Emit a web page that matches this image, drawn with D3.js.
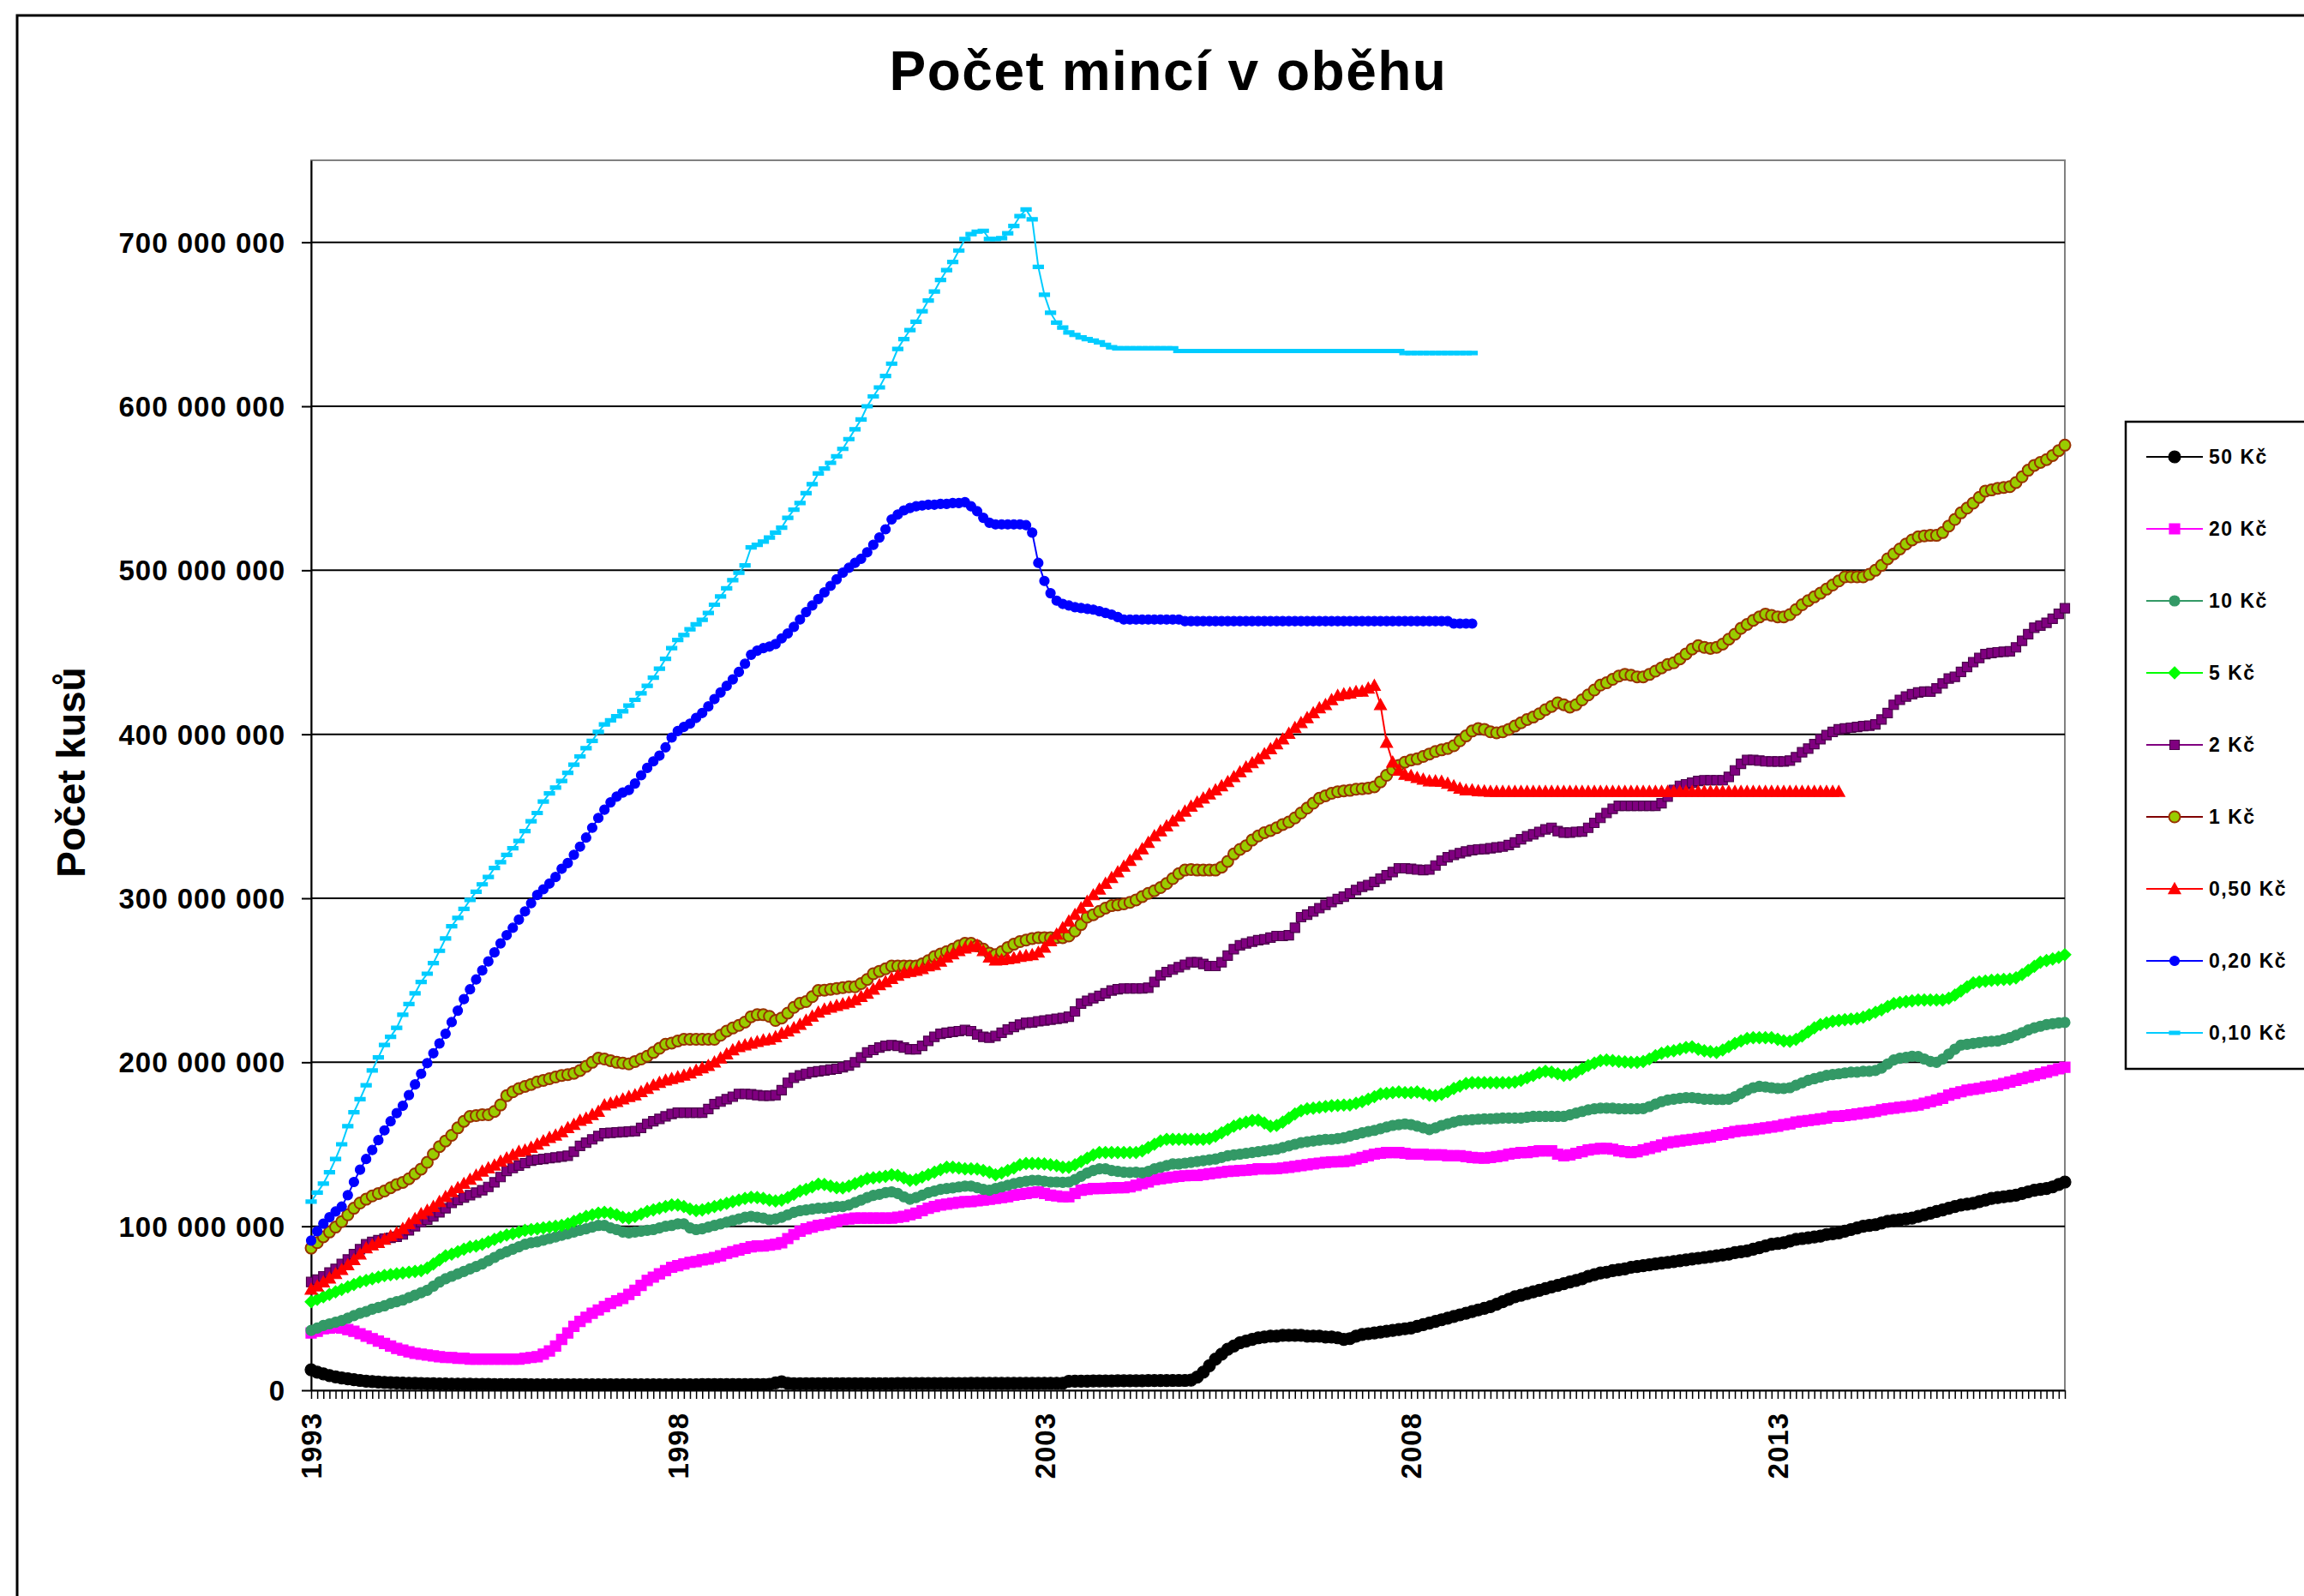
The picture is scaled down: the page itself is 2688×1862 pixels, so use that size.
<!DOCTYPE html>
<html>
<head>
<meta charset="utf-8">
<title>Počet mincí v oběhu</title>
<script src="https://d3js.org/d3.v7.min.js"></script>
<style>
  body { margin: 0; background: #fff; }
  svg text { font-family: "Liberation Sans", Arial, sans-serif; font-weight: bold; fill: #000; }
</style>
</head>
<body>
<script>
// monthly counts in millions of pieces, Jan 1993 onwards (one row per year)
const kc50 = [
  12.5,11,10,9,8.2,7.5,7,6.5,6,5.6,5.3,5,
  4.8,4.6,4.5,4.4,4.3,4.2,4.1,4,4,3.9,3.9,3.8,
  3.8,3.7,3.7,3.6,3.6,3.6,3.5,3.5,3.5,3.5,3.5,3.5,
  3.4,3.4,3.4,3.4,3.4,3.4,3.4,3.4,3.4,3.4,3.4,3.4,
  3.4,3.4,3.4,3.4,3.4,3.4,3.4,3.4,3.4,3.4,3.4,3.4,
  3.4,3.4,3.4,3.4,3.5,3.5,3.5,3.5,3.5,3.5,3.5,3.5,
  3.5,3.5,3.5,3.6,4.5,5.2,4.2,4,4,4,4,4,
  4,4,4,4,4,4,4,4,4,4,4,4,
  4.1,4.1,4.1,4.1,4.1,4.1,4.1,4.1,4.1,4.1,4.1,4.1,
  4.2,4.2,4.2,4.2,4.2,4.2,4.2,4.2,4.2,4.2,4.2,4.2,
  4.3,4.3,4.3,4.3,5.5,5.6,5.6,5.6,5.7,5.7,5.7,5.7,
  5.8,5.8,5.8,5.8,5.8,5.9,5.9,5.9,5.9,6,6,6,
  6.2,8,11,15,19,22,25,27,29,30,31,32,
  32.5,33,33,33.5,33.5,33.5,33.5,33,33,33,32.5,32.5,
  32,31,31.5,33,34,34.5,35,35.5,36,36.5,37,37.5,
  38,39,40,41,42,43,44,45,46,47,48,49,
  50,51,52.5,54,55.5,57,58,59,60,61,62,63,
  64,65,66,67,68,69.5,70.5,71.5,72,73,73.5,74,
  75,75.5,76,76.5,77,77.5,78,78.5,79,79.5,80,80.5,
  81,81.5,82,82.5,83,84,84.5,85,86,87,88,89,
  89.5,90,91,92,92.5,93,93.5,94,95,95.5,96,97,
  98,99,100,100.5,101,102,103,103.5,104,104.5,105,106,
  107,108,109,110,111,112,113,113.5,114,115,116,117,
  117.5,118,118.5,119,120,121,122,122.5,123,124,125.5,127
];
const kc20 = [
  35,36,37.5,38,38.5,38,37,36,34.5,33,31.5,30,
  28.5,27,25.5,24.5,23.5,22.5,22,21.5,21,20.5,20,20,
  19.5,19.5,19,19,19,19,19,19,19,19,19,19.5,
  20,20.5,22,24,27,31,35,39,42,44.5,47,49,
  51,53,54.5,56,58.5,61,64,67,69,71,73,75,
  76,77,78,78.5,79.5,80,81,82,83.5,84.5,85.5,86.5,
  87.5,88,88,88.5,89,90,92.5,95,97,98.5,99.5,100.5,
  101,102,103,104,104.5,105,105,105,105,105,105,105,
  105.5,106,107,108,109.5,111,112,113,113.5,114,114.5,115,
  115,115.5,116,116.5,117,117.5,118,119,119.5,120,120.5,121,
  120,119,118.5,118,118,120,122,122.5,123,123,123.2,123.4,
  123.5,123.5,124,125,126,127,128.5,129,129.5,130,130.5,130.8,
  131,131,131.5,132,132.5,133,133.5,133.7,134,134.2,134.5,135,
  135,135,135.2,135.5,136,136.5,137,137.5,138,138.5,139,139.2,
  139.3,139.5,140,141,142,143,144,144.5,145,145,145,144.5,
  144,144,144,143.5,143.5,143.5,143,143,143,142.5,142,141.7,
  141.5,142,142.5,143,144,144.5,145,145,145.5,146,146,146,
  144,143,143.5,144.5,145.5,146.5,147,147.5,147.5,147,146,145.5,
  145,145.5,146.5,147.5,148.5,149.5,151,151.5,152,152.5,153,153.5,
  154,154.5,155.5,156,157,157.8,158.3,158.6,159,159.5,160,160.5,
  161,162,162.5,163.5,164,164.5,165,165.5,166,167,167,167.5,
  168,168.5,169,169.5,170,171,171.6,172,172.5,173,173.5,174,
  175,176,177,178,180,181,182,183,183.5,184,185,185.5,
  186,187,188,189,190,191,192,193,194,195,196,197
];
const kc10 = [
  36.5,38,39.5,40.5,41.5,42.5,44,45.5,47,48,49.5,50.5,
  51.5,53,54,55,56.5,58,59.5,61,63.5,66,68,69.5,
  71,72.5,74,75.5,77,79,81,83,84.5,86,87.5,89,
  90,90.5,91.5,92.5,93.5,94.5,95.5,96.5,97.5,98.5,99.5,100.5,
  100.5,99,98,96.5,96,96.5,97,97.5,98,99,100,100.5,
  101.5,101.5,99,98,98.5,99.5,100.5,101.5,102.5,103.5,104.5,105.5,
  106,105.5,105,104,104.5,105.5,107,108.5,109.5,110,110.5,111,
  111,111.5,112,112,113,114.5,116,117.5,118.8,119.5,120.5,121,
  120,118,116.5,117.5,119,120.5,121.5,122.5,123,123.4,124,124.5,
  124.5,123.5,122.5,122,123,124,125,126,126.8,127.5,128,128,
  127.5,127,127,126.8,127,128.5,130.5,132.5,134,135,135,134,
  133.5,133,132.8,133,132.6,133.5,135,136,137,138,138,138.5,
  139,139.5,140,140.5,141,142,143,143.5,144,144.5,145,145.5,
  146,146.5,147,148,149,150,151,151.5,152,152.5,153,153,
  153.5,154,155,156,157,157.8,158.5,159.5,160.5,161.5,162,162.4,
  162,161,160,159,160,161.5,162.5,163.5,164.5,164.7,165,165.3,
  165.5,165.5,165.7,166,166,166,166,166.5,167,167,167,167,
  167,167,168,169,170,171,171.6,172,172,172,171.6,171.6,
  171.6,171.6,171.8,173,174.5,176,177,177.5,178,178.4,178.4,178,
  177.5,177.5,177.3,177.3,177.5,179,181,183,184.5,185.3,185,184.5,
  184,184,184.5,186,187.5,189,190,191,192,192.5,193,193.5,
  194,194,194.5,194.5,195,196.5,199,201.4,202.5,203,203.7,203.5,
  202,200.5,200,202,205,208,210.5,211,211.5,212,212.5,212.8,
  213,214,215,216.5,218,219.7,221,222,223,223.5,224,224.3
];
const kc5 = [
  54,55.5,57,58.5,60,61.5,63,64.5,66,67,68,69,
  70,70.5,71,71.5,72,72.5,73,74.5,77,79.5,82,83,
  84.5,86,87.5,88,89,90.5,92,93.5,94.7,95.5,96.5,97.5,
  98,98.5,99,99.5,100,100.5,101.5,103,104.5,106,107,108,
  108.5,108,107,105.5,105,106,107.5,109,110,111,112,113,
  113,112,110.5,109.6,110,111,112,113,114,115,116,117,
  117.7,117.5,117,116,115.4,116,117.5,119.5,121.5,122.5,124,125.7,
  125.5,124.5,123.5,123.4,124.5,126,127.5,129,129.5,130,130.5,131.4,
  131,129.5,128,128.5,130,131.5,133,134.5,136,136,135.5,135,
  135,134.9,134,133,131.4,132.5,134,135.5,137.5,138.3,138.3,138.3,
  138,137.5,137,136,136,137.5,139.5,141.5,143.5,145,145,145,
  145,145,145,145,146,148,150,152,153,153,153,153,
  153,153,153,153.5,155,157,159,161,162.5,163.5,164.5,164.7,
  163,161,161.5,163.5,166,168.5,170.5,171.6,172,172.5,173,173.5,
  173.7,173.9,174,175,176,177.5,179,180.7,181,181.5,181.9,181.5,
  181.5,181.9,181,180,179.6,180.5,182,184,185.5,187,187.6,187.6,
  187.6,187.6,187.6,187.6,187.6,188,189,190.5,192,193.5,194.5,194,
  193,192,192.5,194,196,198,199.5,201,201.4,201,200.5,200.2,
  200,200,200.5,202,204,205.5,206.5,207,208,209,209.4,208,
  207,206.5,206,207.5,209.5,211.5,213,214.5,215,215,215,215,
  214,213,212.8,214,216,218.5,221,223,224,225,225.5,226,
  226.3,226.6,227.5,229,230.5,232,234,235.8,236.5,237,237.5,238,
  238,238,238,238,239,241,243.5,246,248.4,249,249.5,250,
  250.3,250.5,250.7,251.5,253.5,256,258.5,261,262,263,264,265.6
];
const kc2 = [
  66,67.5,69.5,71.8,74,77,79.8,83,86,89,90.5,91.5,
  92.5,93,93.6,95,97.5,100,102.5,104,106,108.5,111,114.2,
  116,117.5,119,120.5,122,124,126.8,130,133.7,135.5,137,138.5,
  140,140.6,141,141.5,142,142.5,143,145.5,149,151,153,155,
  156.7,157,157.3,157.5,157.8,158,160,162.4,164,165.5,167,168.5,
  169.3,169.3,169.3,169.3,169.3,171.5,174.5,176,177.5,179,180.7,180.7,
  180.5,180,179.6,179.6,180,183,187.5,190.5,192,193,194,194.5,
  195,195.5,196,197,198,200,203,206,207.5,209,210,210.5,
  210,209,208,208,210,213,215.5,217.4,218,218.5,219,219.7,
  219,217,215.5,215,216,218,220,221.5,223,224,224.3,225,
  225.5,226,226.5,227,227.8,231,235.8,237.5,239,240.5,242,243.8,
  244.5,245,245,245,245,245.5,249,253,255,256.5,258,259.5,
  261,261,260,258.7,258.7,261,265,269,271.3,272.5,273.5,274.5,
  275,276,277,277,277.5,282,288.5,290,292,294,296,297.7,
  299.5,301,303,305,307,308,310,312,314,316,318.3,318.3,
  318,317.5,317.2,317.5,320,323,325,326.4,327.5,328.5,329.3,329.8,
  330,330.5,331,331.5,332.5,334,336,337.8,339,340.5,342,343,
  341,340,340,340.5,340.7,343,346,349,352,354.5,356.4,356.4,
  356.4,356.4,356.4,356.4,356.4,358,362,366,368.6,369.5,370.5,371.5,
  372,372,372,372,374,378,382,384.3,384.3,384,383.5,383.4,
  383.4,383.4,384,386,389,391.3,394,397,399.5,401.5,403,403.5,
  404,404.5,405,405.2,406,409,413,418,421,423,424.5,425.5,
  426,426,428,431,434,435,438,441,444,446.5,448.9,449.5,
  450,450.3,450.6,453,457,461,465,466.3,468,470.5,473.5,476.8
];
const kc1 = [
  86.7,90,93.6,96.5,99.5,102.8,107,111,114.2,116.5,118.5,120,
  121.5,123.5,125.5,126.8,129,132,134.9,139,144,148.6,152,155.5,
  160,164,167,167.5,168,168,170,174,179.6,182,184,185.3,
  186.5,188,189,190,191,192,192.5,193.3,195,197.5,200,202.5,
  202,201,200,199.5,199,200.5,202,203.7,206,208.5,211,211.7,
  213,214,214,214,214,214,214,216.5,219,220.9,222.5,224.5,
  227.8,229,229,228,225.5,227,230,233.5,236,237,240,243.8,
  244,244.5,245,245.5,246,246,248,250.5,254,255.5,257,258.7,
  258.7,258.7,258.7,258.7,260,262,264.4,266,267.5,269,271,272.5,
  272.5,271,269,266.5,265.6,267.5,270,272,273.6,274.5,275.5,276,
  276,276,276,276,277,280,284,288.5,290,292,294,295.5,
  296,296.6,297.5,299,301,303,304.6,306.5,309,312,315,317.2,
  317.5,317.2,317.2,317.2,317.2,319,322.5,327,329.8,332,335.5,338,
  340,341.3,343,345,346.5,349,352,355,358,361,362.5,364,
  365,365.5,365.8,366.5,366.8,367.2,368,371,375,378.5,381,383,
  384.3,385,386.5,388,389.5,390.5,391.3,393,396,399,402,403.5,
  403,401.5,400.9,401.5,403,405,407,409,410.5,412.5,415,417,
  419.2,418,416.6,418,421,424,427,430,431.4,433.5,435.5,436.6,
  436,435,435,436.5,438.5,440.5,442.5,443.6,446,449,452,454,
  453,452.4,453,455,458,461,464.6,467,469.5,471.5,473.3,472.5,
  471.6,471.6,473,476,479,481.5,483.8,486,488.5,491,493.5,496,
  496,496,496,497.5,500,503,507,510,513,516,518.5,520.4,
  521,521.3,521.3,523,527,531,535,537.9,541,544.5,548.3,549,
  550,550.5,551,553.5,557,561,564,565.8,567.5,570,573,576.3
];
const kc050 = [
  61.5,63.5,66,68.3,71,73.5,76.4,79.5,83,86.7,88.5,90,
  92,94,95.9,98.5,101.5,104.5,107.5,109.6,112,115,118,121,
  123.4,126,128.5,131,133.5,135.5,137.2,139.5,141.5,143.5,145.5,146.3,
  148,150,152,154,155.5,157.5,160,162,164.5,165.8,168,170,
  173.9,175,176,177.5,179,180,182,184,186,187.6,189,190,
  191,192,193.3,195,196.5,197.9,200,202.5,205,207.5,209.4,210.5,
  211.5,212.5,213.5,214,215.5,217.5,219,220.9,223,225.5,228,230.5,
  232.3,233.5,234.5,235.5,236.5,238,240,242,244.5,247.2,249,251,
  253,254.5,255.3,256,257,258.7,259.5,261.5,264,266,267.9,269.5,
  270.5,271.3,268,264,262.2,262.5,263,263.5,264.4,265,265.5,267,
  270,274,278,282,286,290,294,298,302,305.5,309,312.5,
  316,319.5,323,326.5,330,334,338,341,344,347,350,353,
  356,358.5,361,363.5,366,368.5,371,374,377,380,382.5,385,
  388,391,394,397,400.5,404,407,410,413,416,418,421,
  423.6,424.5,425,426,426.2,428,429.7,418,395,383,378,375.5,
  374.7,373.5,372.5,371.5,371.5,371.2,370,368.5,367,366,366,365.5,
  365.3,365.1,365.1,365.1,365.1,365.1,365.1,365.1,365.1,365.1,365.1,365.1,
  365.1,365.1,365.1,365.1,365.1,365.1,365.1,365.1,365.1,365.1,365.1,365.1,
  365.1,365.1,365.1,365.1,365.1,365.1,365.1,365.1,365.1,365.1,365.1,365.1,
  365.1,365.1,365.1,365.1,365.1,365.1,365.1,365.1,365.1,365.1,365.1,365.1,
  365.1,365.1,365.1,365.1,365.1,365.1,365.1,365.1,365.1,365.1,365.1
];
const kc020 = [
  91.3,97,101.6,105.5,109,112,119,127,134.5,141,146.5,152.5,
  158.5,164,169,173.5,180,186.5,193,199.5,205.5,211.5,217.4,224.5,
  231.5,238.5,244.5,250.5,256,261.5,267,272.5,277.5,282,287,292,
  297,302,305.5,309,313,318,321.5,326.5,331.5,337,343,349,
  354,358.5,362,364.5,366,370,375,379.5,383.5,387,392,398,
  402,404.5,406.5,410,413,417,421.5,425.5,429.5,433.5,438,443,
  448.5,451,452.5,453.5,455,458.5,461.5,465.5,470,474.5,478.5,482.5,
  486.5,490.5,494.5,498.5,501.5,504.5,507,511,515.5,520,525,531,
  534,536.5,538,539,539.5,540,540,540.5,540.5,541,541,541.5,
  539,536,532,529,528,528,528,528,528,527.5,523,504.5,
  493.5,486,481.5,479.5,478.5,477.5,477,476.5,476,475,474,473,
  471.5,470,470,470,470,470,470,470,470,470,470,469,
  469,469,469,469,469,469,469,469,469,469,469,469,
  469,469,469,469,469,469,469,469,469,469,469,469,
  469,469,469,469,469,469,469,469,469,469,469,469,
  469,469,469,469,469,469,469,467.5,467.5,467.5,467.5
];
const kc010 = [
  115,120.5,126,133,141,150,161,169.5,177.5,186,195,203,
  210.6,215.5,221,229,235.5,242,249,254,260.5,268,275.5,283,
  288,293.5,299,304,308.5,313,318.5,322,326.5,330.5,335,341,
  347,352,359,364,367.5,371.5,376.5,381.5,386.5,391.5,396,401.5,
  406,408.5,411,414,417.5,421,425,429.5,434.5,440,446,452.5,
  457.5,460.5,464,467,469.8,474,479,484,489,494,498.5,503,
  514,515.5,517.5,520,523,526,532,537,541,547,552.5,559,
  562,565.5,569.5,574,580,586,592,600,606,611.5,618.5,626,
  635,641,646.5,651.5,658,664.5,670,677,683,688,695,702,
  705,706.5,707,702,702,702.5,705.5,710,716,720,714,685,
  668,657,651,648,645,643.5,642,641,640,639,637.5,636,
  635.3,635.3,635.3,635.3,635.3,635.3,635.3,635.3,635.3,635.3,633.7,633.7,
  633.7,633.7,633.7,633.7,633.7,633.7,633.7,633.7,633.7,633.7,633.7,633.7,
  633.7,633.7,633.7,633.7,633.7,633.7,633.7,633.7,633.7,633.7,633.7,633.7,
  633.7,633.7,633.7,633.7,633.7,633.7,633.7,633.7,633.7,633.7,633.7,632.5,
  632.5,632.5,632.5,632.5,632.5,632.5,632.5,632.5,632.5,632.5,632.5
];

const firstYear = 1993;
const monthCount = 288;
const yearLabels = ["1993", "1998", "2003", "2008", "2013"];
const yTicks = [0, 100, 200, 300, 400, 500, 600, 700];
const seriesNames = ["50 Kč", "20 Kč", "10 Kč", "5 Kč", "2 Kč", "1 Kč", "0,50 Kč", "0,20 Kč", "0,10 Kč"];

// category axis: one entry per month
const months = d3.range(monthCount).map(i =>
  (firstYear + Math.floor(i / 12)) + "-" + String(i % 12 + 1).padStart(2, "0"));

const styles = [
  {line: "#000000", fill: "#000000", stroke: "#000000", shape: "circle", size: 14},
  {line: "#ff00ff", fill: "#ff00ff", stroke: "#ff00ff", shape: "square", size: 12},
  {line: "#339966", fill: "#339966", stroke: "#339966", shape: "circle", size: 12},
  {line: "#00ff00", fill: "#00ff00", stroke: "#00ff00", shape: "diamond", size: 14},
  {line: "#800080", fill: "#800080", stroke: "#4b004b", shape: "square", size: 11},
  {line: "#800000", fill: "#99cc00", stroke: "#993300", shape: "circle", size: 13},
  {line: "#ff0000", fill: "#ff0000", stroke: "#ff0000", shape: "triangle", size: 14},
  {line: "#0000ff", fill: "#0000ff", stroke: "#0000ff", shape: "circle", size: 11},
  {line: "#00ccff", fill: "#00ccff", stroke: "#00ccff", shape: "dash", size: 12}
];
const seriesValues = [kc50, kc20, kc10, kc5, kc2, kc1, kc050, kc020, kc010];
const series = seriesNames.map((name, i) => Object.assign({name: name, values: seriesValues[i]}, styles[i]));

function markerPath(shape, s) {
  const r = s / 2;
  if (shape == "circle") return "M" + r + ",0A" + r + "," + r + " 0 1,1 " + (-r) + ",0A" + r + "," + r + " 0 1,1 " + r + ",0Z";
  if (shape == "square") return "M" + (-r) + "," + (-r) + "H" + r + "V" + r + "H" + (-r) + "Z";
  if (shape == "diamond") return "M0," + (-r) + "L" + r + ",0L0," + r + "L" + (-r) + ",0Z";
  if (shape == "triangle") return "M0," + (-r) + "L" + r + "," + (r * 0.8) + "L" + (-r) + "," + (r * 0.8) + "Z";
  return "M" + (-r) + ",-2H" + r + "V2H" + (-r) + "Z";
}

const width = 2688, height = 1862;
const plot = {left: 363, right: 2409, top: 187, bottom: 1622};

const svg = d3.select("body").append("svg").attr("width", width).attr("height", height);
svg.append("rect").attr("width", width).attr("height", height).attr("fill", "#fff");

// outer chart frame (runs off the right and bottom edges)
svg.append("rect").attr("x", 20).attr("y", 18).attr("width", 3000).attr("height", 3000)
  .attr("fill", "none").attr("stroke", "#000").attr("stroke-width", 3);

svg.append("text").attr("x", 1363).attr("y", 105).attr("text-anchor", "middle")
  .attr("font-size", 64).attr("letter-spacing", 1.5).text("Počet mincí v oběhu");

const x = d3.scalePoint().domain(months).range([plot.left, plot.right]);
const y = d3.scaleLinear().domain([0, 750]).range([plot.bottom, plot.top]);

svg.append("rect").attr("x", plot.left).attr("y", plot.top)
  .attr("width", plot.right - plot.left).attr("height", plot.bottom - plot.top)
  .attr("fill", "#fff").attr("stroke", "#808080").attr("stroke-width", 2);

// gridlines
svg.append("g").selectAll("line").data(yTicks.filter(v => v > 0)).join("line")
  .attr("x1", plot.left).attr("x2", plot.right)
  .attr("y1", d => y(d)).attr("y2", d => y(d))
  .attr("stroke", "#000").attr("stroke-width", 2);

const fmt = v => v == 0 ? "0" : d3.format(",")(v * 1e6).replace(/,/g, " ");
const yAxis = svg.append("g").attr("transform", "translate(" + plot.left + ",0)")
  .call(d3.axisLeft(y).tickValues(yTicks).tickSize(11).tickSizeOuter(0).tickPadding(19).tickFormat(fmt));
yAxis.attr("font-size", 33).attr("font-family", null);
yAxis.selectAll("line, path").attr("stroke", "#000").attr("stroke-width", 2);
yAxis.selectAll("text").attr("letter-spacing", 1).attr("dy", "0.35em");

const xAxis = svg.append("g").attr("transform", "translate(0," + plot.bottom + ")")
  .call(d3.axisBottom(x).tickValues(months).tickSize(10).tickSizeOuter(0)
    .tickFormat(d => (d.slice(5) == "01" && yearLabels.includes(d.slice(0, 4))) ? d.slice(0, 4) : ""));
xAxis.attr("font-size", 33).attr("font-family", null);
xAxis.selectAll("line").attr("stroke", "#000").attr("stroke-width", 1.5);
xAxis.select("path").attr("stroke", "#000").attr("stroke-width", 2);
xAxis.selectAll("text").attr("transform", "rotate(-90)").attr("text-anchor", "end")
  .attr("x", -26).attr("y", 0).attr("dy", "0.35em").attr("letter-spacing", 1);

svg.append("text").attr("transform", "translate(99,901) rotate(-90)")
  .attr("text-anchor", "middle").attr("font-size", 46).text("Počet kusů");

// series
const line = d3.line().x((d, i) => x(months[i])).y(d => y(d));
const chart = svg.append("g");
series.forEach(s => {
  const g = chart.append("g");
  g.append("path").datum(s.values).attr("d", line)
    .attr("fill", "none").attr("stroke", s.line).attr("stroke-width", 2);
  g.selectAll("path.m").data(s.values).join("path").attr("class", "m")
    .attr("transform", (d, i) => "translate(" + x(months[i]) + "," + y(d) + ")")
    .attr("d", markerPath(s.shape, s.size))
    .attr("fill", s.fill).attr("stroke", s.stroke).attr("stroke-width", s.shape == "circle" && s.fill != s.stroke ? 2 : 1.2);
});

// legend (its right edge is cut by the picture)
const legend = svg.append("g");
legend.append("rect").attr("x", 2480).attr("y", 492).attr("width", 400).attr("height", 755)
  .attr("fill", "#fff").attr("stroke", "#000").attr("stroke-width", 2.5);
const items = legend.selectAll("g.item").data(series).join("g").attr("class", "item")
  .attr("transform", (d, i) => "translate(0," + (533 + i * 84) + ")");
items.append("line").attr("x1", 2504).attr("x2", 2570)
  .attr("stroke", d => d.line).attr("stroke-width", 2);
items.append("path").attr("transform", "translate(2537,0)")
  .attr("d", d => markerPath(d.shape, d.size))
  .attr("fill", d => d.fill).attr("stroke", d => d.stroke)
  .attr("stroke-width", d => d.shape == "circle" && d.fill != d.stroke ? 2 : 1.2);
items.append("text").attr("x", 2577).attr("dy", "0.35em").attr("font-size", 23)
  .attr("letter-spacing", 1.5).text(d => d.name);
</script>
</body>
</html>
